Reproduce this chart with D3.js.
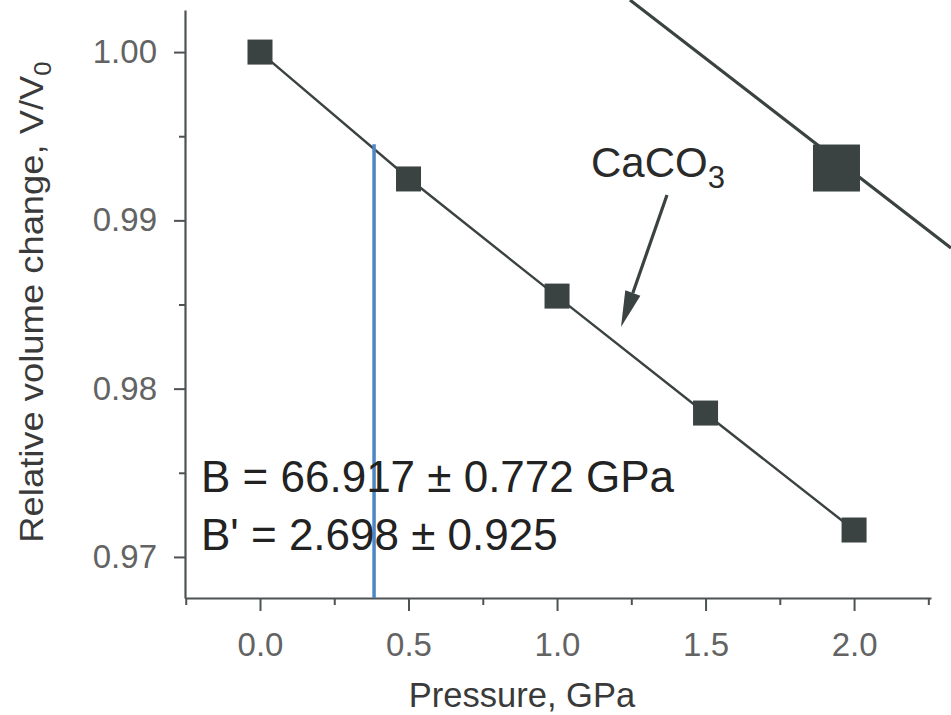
<!DOCTYPE html>
<html>
<head>
<meta charset="utf-8">
<script src="https://cdn.jsdelivr.net/npm/d3@7"></script>
<style>
  html, body { margin: 0; padding: 0; background: #fff; }
  svg { display: block; }
  text { font-family: "Liberation Sans", Arial, Helvetica, sans-serif; }
</style>
</head>
<body>
<svg id="chart" width="951" height="715"></svg>
<script>
// Measured compression of CaCO3: pressure (GPa) vs relative volume V/V0
const pressures = [0.0, 0.5, 1.0, 1.5, 2.0];
const volumes = [1.0000, 0.99246, 0.98550, 0.97855, 0.97160];

// Fitted equation-of-state curve (B = 66.917 GPa, B' = 2.698)
const fitPressures = [0.0, 0.5, 1.0, 1.5, 2.0];
const fitVolumes = [1.0000, 0.99250, 0.98548, 0.97852, 0.97160];

// Neighbouring dataset running off the upper-right corner
const otherLinePressures = [1.2456, 2.3262];
const otherLineVolumes = [1.00309, 0.98836];
const otherPointPressure = [1.9408];
const otherPointVolume = [0.99311];

// Pressure marker (vertical guide)
const markerPressure = 0.384;
const markerVolume = 0.99453;

// Axis ticks
const xMajorTicks = [0.0, 0.5, 1.0, 1.5, 2.0];
const xMinorTicks = [-0.25, 0.25, 0.75, 1.25, 1.75, 2.25];
const yMajorTicks = [0.97, 0.98, 0.99, 1.00];
const yMinorTicks = [0.975, 0.985, 0.995];

const fitLabels = ["B = 66.917 \u00B1 0.772 GPa", "B' = 2.698 \u00B1 0.925"];

const svg = d3.select("#chart");
const axisColor = "#4d5252";
const markColor = "#3b4242";

const x = d3.scaleLinear().domain([-0.2525, 2.259]).range([185, 931]);
const y = d3.scaleLinear().domain([0.96756, 1.0025]).range([598, 10]);

// ---- axes ----
const xAxis = svg.append("g").attr("transform", "translate(0,598)")
  .call(d3.axisBottom(x).tickValues(xMajorTicks).tickSize(13).tickSizeOuter(0)
    .tickPadding(22).tickFormat(d3.format(".1f")));
const xMinor = svg.append("g").attr("transform", "translate(0,598)")
  .call(d3.axisBottom(x).tickValues(xMinorTicks).tickSize(7).tickFormat(""));
xMinor.select(".domain").remove();

const yAxis = svg.append("g").attr("transform", "translate(185,0)")
  .call(d3.axisLeft(y).tickValues(yMajorTicks).tickSize(11).tickSizeOuter(0)
    .tickPadding(17).tickFormat(d3.format(".2f")));
const yMinor = svg.append("g").attr("transform", "translate(185,0)")
  .call(d3.axisLeft(y).tickValues(yMinorTicks).tickSize(6).tickFormat(""));
yMinor.select(".domain").remove();

svg.selectAll(".domain").attr("stroke", axisColor).attr("stroke-width", 2.2);
svg.selectAll(".tick line").attr("stroke", axisColor).attr("stroke-width", 2);
svg.selectAll(".tick text")
  .attr("fill", "#636363")
  .style("font-size", "33px")
  .style("font-family", "'Liberation Sans', Arial, sans-serif");
xAxis.selectAll(".tick text").attr("dy", "0.71em");

// ---- axis titles ----
svg.append("text")
  .attr("x", 522).attr("y", 707)
  .attr("text-anchor", "middle")
  .attr("fill", "#3a3a3a")
  .style("font-size", "34.5px")
  .text("Pressure, GPa");

const yTitle = svg.append("text")
  .attr("transform", "translate(43,302) rotate(-90) scale(1.07,1)")
  .attr("text-anchor", "middle")
  .attr("fill", "#3a3a3a")
  .style("font-size", "34px");
yTitle.append("tspan").text("Relative volume change, V/V");
yTitle.append("tspan").attr("dy", 8).style("font-size", "24px").text("0");

// ---- neighbouring dataset (upper right) ----
const line = d3.line().x(d => x(d[0])).y(d => y(d[1]));
svg.append("path")
  .datum(d3.zip(otherLinePressures, otherLineVolumes))
  .attr("d", line)
  .attr("fill", "none")
  .attr("stroke", markColor)
  .attr("stroke-width", 3.2);
const bigSize = 47;
svg.selectAll("rect.big")
  .data(d3.zip(otherPointPressure, otherPointVolume))
  .join("rect")
  .attr("class", "big")
  .attr("x", d => x(d[0]) - bigSize / 2)
  .attr("y", d => y(d[1]) - bigSize / 2)
  .attr("width", bigSize).attr("height", bigSize)
  .attr("fill", markColor);

// ---- fit curve ----
svg.append("path")
  .datum(d3.zip(fitPressures, fitVolumes))
  .attr("d", line)
  .attr("fill", "none")
  .attr("stroke", markColor)
  .attr("stroke-width", 2.4);

// ---- vertical pressure marker ----
svg.append("line")
  .attr("x1", x(markerPressure)).attr("x2", x(markerPressure))
  .attr("y1", y(markerVolume)).attr("y2", y(y.domain()[0]))
  .attr("stroke", "#4d86c6")
  .attr("stroke-width", 3.5);

// ---- data points ----
const size = 25;
svg.selectAll("rect.pt")
  .data(d3.zip(pressures, volumes))
  .join("rect")
  .attr("class", "pt")
  .attr("x", d => x(d[0]) - size / 2)
  .attr("y", d => y(d[1]) - size / 2)
  .attr("width", size).attr("height", size)
  .attr("fill", markColor);

// ---- fit parameters ----
svg.selectAll("text.fit")
  .data(fitLabels)
  .join("text")
  .attr("class", "fit")
  .attr("x", 201)
  .attr("y", (d, i) => 492 + i * 58)
  .attr("fill", "#222")
  .style("font-size", "44px")
  .text(d => d);

// ---- CaCO3 label and arrow ----
const label = svg.append("text")
  .attr("x", 591).attr("y", 177)
  .attr("fill", "#2a2a2a")
  .style("font-size", "42px");
label.append("tspan").text("CaCO");
label.append("tspan").attr("dy", 11).style("font-size", "31px").text("3");

const ax1 = 667, ay1 = 195, ax2 = 621, ay2 = 327;
const ang = Math.atan2(ay2 - ay1, ax2 - ax1);
const headLen = 36, headHalf = 8;
const bx = ax2 - headLen * Math.cos(ang), by = ay2 - headLen * Math.sin(ang);
svg.append("line")
  .attr("x1", ax1).attr("y1", ay1).attr("x2", bx).attr("y2", by)
  .attr("stroke", markColor).attr("stroke-width", 3.2);
svg.append("path")
  .attr("d", `M${ax2},${ay2}L${bx + headHalf * Math.sin(ang)},${by - headHalf * Math.cos(ang)}L${bx - headHalf * Math.sin(ang)},${by + headHalf * Math.cos(ang)}Z`)
  .attr("fill", markColor);
</script>
</body>
</html>
